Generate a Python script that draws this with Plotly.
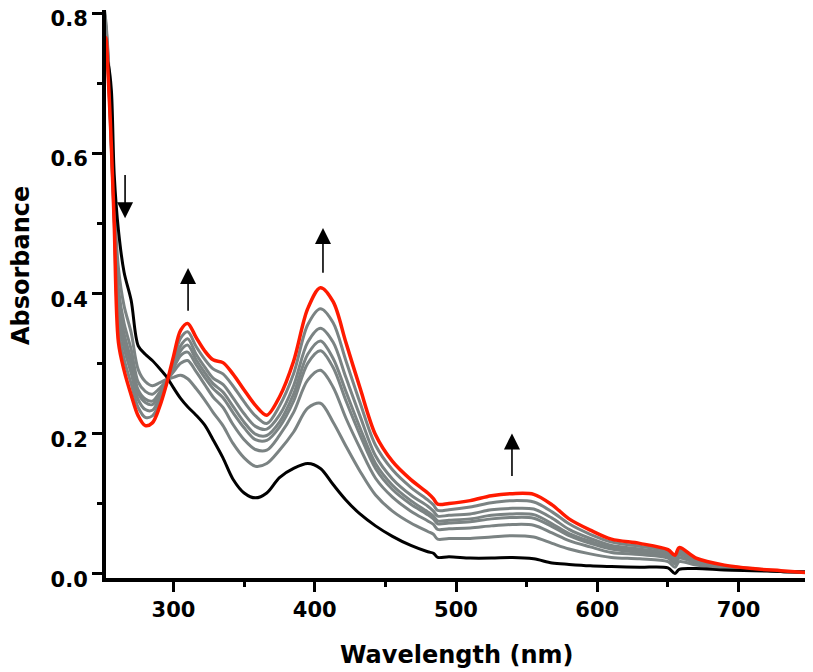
import plotly.graph_objects as go

# Wavelength grid (nm)
wavelength = [250, 252, 254, 256, 258, 261, 265, 270, 275, 280,
              285, 290, 295, 300, 305, 310, 316, 322, 328, 335,
              342, 350, 358, 366, 375, 385, 395, 404, 413, 422,
              432, 443, 455, 468, 480, 484, 487, 495, 510, 525,
              540, 555, 568, 580, 595, 610, 630, 650, 655, 658,
              670, 690, 710, 730, 750]

# Initial spectrum (black)
abs_initial = [0.76, 0.74, 0.725, 0.69, 0.57, 0.49, 0.43, 0.39, 0.325, 0.313,
               0.304, 0.293, 0.281, 0.265, 0.25, 0.238, 0.226, 0.212, 0.191, 0.165,
               0.135, 0.115, 0.108, 0.115, 0.137, 0.15, 0.157, 0.15, 0.127, 0.105,
               0.085, 0.068, 0.053, 0.04, 0.031, 0.029, 0.023, 0.024, 0.022, 0.022,
               0.023, 0.021, 0.015, 0.013, 0.011, 0.01, 0.009, 0.008, 0.0, 0.006,
               0.007, 0.005, 0.004, 0.003, 0.002]

# Intermediate spectra (grey)
abs_g1 = [0.82, 0.79, 0.73, 0.63, 0.53, 0.436, 0.382, 0.344, 0.291, 0.274,
          0.268, 0.272, 0.277, 0.280, 0.283, 0.278, 0.264, 0.248, 0.230, 0.211,
          0.186, 0.165, 0.153, 0.157, 0.176, 0.202, 0.236, 0.243, 0.216, 0.182,
          0.146, 0.112, 0.089, 0.072, 0.060, 0.056, 0.049, 0.050, 0.050, 0.052,
          0.054, 0.052, 0.043, 0.035, 0.028, 0.023, 0.021, 0.017, 0.009, 0.017,
          0.012, 0.007, 0.005, 0.003, 0.002]
abs_g2 = [0.82, 0.785, 0.725, 0.625, 0.525, 0.407, 0.357, 0.32, 0.273, 0.26,
          0.256, 0.264, 0.275, 0.288, 0.30, 0.304, 0.288, 0.27, 0.252, 0.237,
          0.213, 0.191, 0.177, 0.176, 0.197, 0.23, 0.276, 0.29, 0.266, 0.222,
          0.179, 0.136, 0.109, 0.089, 0.075, 0.070, 0.063, 0.064, 0.065, 0.068,
          0.070, 0.069, 0.058, 0.047, 0.038, 0.030, 0.027, 0.022, 0.014, 0.022,
          0.015, 0.009, 0.006, 0.003, 0.002]
abs_g3 = [0.82, 0.78, 0.72, 0.62, 0.52, 0.389, 0.342, 0.305, 0.262, 0.249,
          0.246, 0.258, 0.274, 0.293, 0.311, 0.316, 0.298, 0.28, 0.264, 0.251,
          0.23, 0.208, 0.191, 0.19, 0.209, 0.246, 0.30, 0.318, 0.294, 0.247,
          0.198, 0.150, 0.120, 0.099, 0.084, 0.078, 0.071, 0.072, 0.074, 0.078,
          0.080, 0.079, 0.067, 0.054, 0.043, 0.035, 0.030, 0.024, 0.016, 0.026,
          0.016, 0.009, 0.006, 0.003, 0.002]
abs_g4 = [0.82, 0.78, 0.715, 0.615, 0.515, 0.381, 0.335, 0.298, 0.257, 0.244,
          0.241, 0.255, 0.274, 0.296, 0.318, 0.326, 0.305, 0.287, 0.271, 0.259,
          0.239, 0.216, 0.199, 0.197, 0.216, 0.256, 0.313, 0.332, 0.307, 0.26,
          0.208, 0.157, 0.126, 0.104, 0.088, 0.082, 0.075, 0.076, 0.078, 0.083,
          0.085, 0.084, 0.071, 0.057, 0.046, 0.037, 0.032, 0.026, 0.018, 0.027,
          0.017, 0.010, 0.006, 0.003, 0.002]
abs_g5 = [0.82, 0.775, 0.71, 0.61, 0.51, 0.367, 0.322, 0.286, 0.248, 0.234,
          0.233, 0.25, 0.273, 0.30, 0.325, 0.335, 0.313, 0.295, 0.279, 0.270,
          0.251, 0.228, 0.210, 0.206, 0.226, 0.268, 0.33, 0.35, 0.33, 0.28,
          0.225, 0.168, 0.135, 0.112, 0.096, 0.089, 0.082, 0.083, 0.085, 0.091,
          0.093, 0.092, 0.079, 0.063, 0.050, 0.040, 0.035, 0.028, 0.020, 0.030,
          0.019, 0.010, 0.006, 0.003, 0.002]
abs_g6 = [0.82, 0.77, 0.705, 0.605, 0.505, 0.348, 0.306, 0.271, 0.237, 0.223,
          0.225, 0.243, 0.271, 0.305, 0.336, 0.345, 0.324, 0.306, 0.292, 0.285,
          0.268, 0.245, 0.225, 0.214, 0.239, 0.285, 0.355, 0.378, 0.358, 0.304,
          0.244, 0.183, 0.148, 0.123, 0.105, 0.098, 0.090, 0.091, 0.095, 0.101,
          0.104, 0.102, 0.088, 0.071, 0.056, 0.045, 0.039, 0.031, 0.023, 0.033,
          0.020, 0.011, 0.007, 0.003, 0.002]

# Final spectrum (red)
abs_final = [0.72, 0.765, 0.70, 0.61, 0.50, 0.33, 0.29, 0.255, 0.225, 0.211,
             0.215, 0.237, 0.27, 0.31, 0.347, 0.357, 0.337, 0.318, 0.305, 0.301,
             0.285, 0.262, 0.24, 0.226, 0.252, 0.303, 0.378, 0.408, 0.388, 0.33,
             0.265, 0.198, 0.16, 0.134, 0.115, 0.107, 0.099, 0.100, 0.104, 0.111,
             0.114, 0.113, 0.098, 0.078, 0.062, 0.049, 0.043, 0.034, 0.026, 0.037,
             0.022, 0.012, 0.007, 0.004, 0.001]

x_tick_vals = [300, 400, 500, 600, 700]
x_tick_text = ["300", "400", "500", "600", "700"]
x_minor_vals = [350, 450, 550, 650, 750]
y_tick_vals = [0.0, 0.2, 0.4, 0.6, 0.8]
y_tick_text = ["0.0", "0.2", "0.4", "0.6", "0.8"]
y_minor_vals = [0.1, 0.3, 0.5, 0.7]

# Arrows: (wavelength, tail absorbance, tip absorbance)
arrow_x = [265.7, 310.3, 405.8, 539.6]
arrow_tail = [0.571, 0.373, 0.427, 0.137]
arrow_tip = [0.507, 0.436, 0.493, 0.200]

GREY = "#7b8383"
FONT = "DejaVu Sans"
SMOOTH = 0.9

fig = go.Figure()
for g in [abs_g1, abs_g2, abs_g3, abs_g4, abs_g5, abs_g6]:
    fig.add_trace(go.Scatter(x=wavelength, y=g, mode="lines",
                             line=dict(color=GREY, width=3, shape="spline", smoothing=SMOOTH),
                             hoverinfo="skip"))
fig.add_trace(go.Scatter(x=wavelength, y=abs_initial, mode="lines",
                         line=dict(color="black", width=3, shape="spline", smoothing=SMOOTH)))
fig.add_trace(go.Scatter(x=wavelength, y=abs_final, mode="lines",
                         line=dict(color="#ff1a00", width=3.5, shape="spline", smoothing=SMOOTH)))

annotations = []
for xa, yt, yh in zip(arrow_x, arrow_tail, arrow_tip):
    annotations.append(dict(x=xa, y=yh, ax=xa, ay=yt, xref="x", yref="y",
                            axref="x", ayref="y", text="", showarrow=True,
                            arrowhead=2, arrowsize=2.0, arrowwidth=1.6,
                            arrowcolor="black"))

annotations.append(dict(text="Absorbance", xref="paper", yref="paper",
                        x=-0.1204, y=0.551, xanchor="center", yanchor="middle",
                        textangle=-90, showarrow=False,
                        font=dict(family=FONT, size=24, color="black", weight="bold")))
annotations.append(dict(text="Wavelength (nm)", xref="paper", yref="paper",
                        x=0.497, y=-0.1356, xanchor="center", yanchor="middle",
                        showarrow=False,
                        font=dict(family=FONT, size=24, color="black", weight="bold")))

tickfont = dict(family=FONT, size=21, color="black", weight="bold")

# The page body adds an 8 px offset; the figure is sized to fill the window exactly.
fig.update_layout(
    width=805, height=664,
    margin=dict(l=98, r=1, t=2, b=94, autoexpand=False),
    paper_bgcolor="white", plot_bgcolor="white",
    showlegend=False,
    annotations=annotations,
    xaxis=dict(range=[252.2, 752], showline=True, linewidth=4, linecolor="black",
               ticks="outside", ticklen=10, tickwidth=3, tickcolor="black",
               tickvals=x_tick_vals, ticktext=x_tick_text, tickfont=tickfont,
               ticklabeloverflow="allow", automargin=False,
               minor=dict(tickvals=x_minor_vals, ticks="outside", ticklen=5,
                          tickwidth=3, tickcolor="black", showgrid=False),
               showgrid=False, zeroline=False, mirror=False),
    yaxis=dict(range=[-0.0064, 0.8043], showline=True, linewidth=4, linecolor="black",
               ticks="outside", ticklen=10, tickwidth=3, tickcolor="black",
               tickvals=y_tick_vals, ticktext=y_tick_text, tickfont=tickfont,
               ticklabeloverflow="allow", automargin=False, ticklabelshift=6,
               minor=dict(tickvals=y_minor_vals, ticks="outside", ticklen=5,
                          tickwidth=3, tickcolor="black", showgrid=False),
               showgrid=False, zeroline=False, mirror=False),
)

fig.write_html("out.html")
